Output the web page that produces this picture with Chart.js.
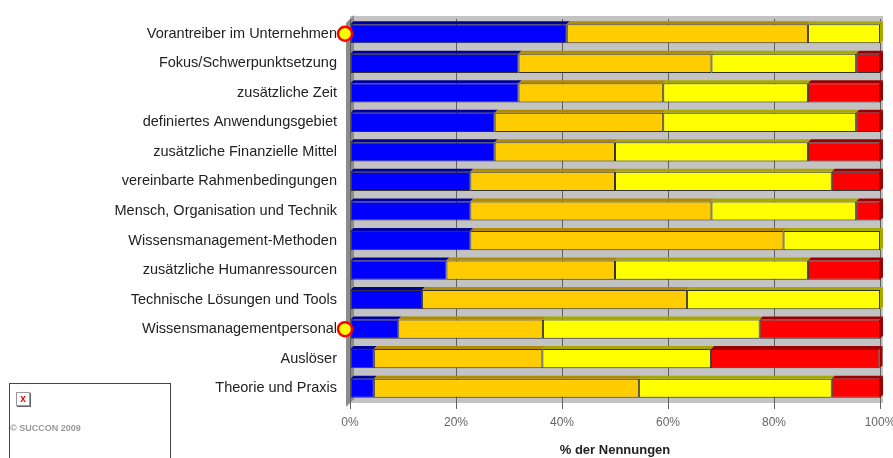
<!DOCTYPE html>
<html>
<head>
<meta charset="utf-8">
<script src="https://cdn.jsdelivr.net/npm/chart.js@4"></script>
<style>
  body { margin: 0; background: #fff; font-family: "Liberation Sans", Arial, sans-serif; }
  #wrap { position: relative; width: 893px; height: 458px; }
  #logo { position: absolute; left: 9px; top: 383px; width: 160px; height: 90px;
          border: 1px solid #444; border-bottom: none; }
  #logo .icon { position: absolute; left: 6px; top: 8px; width: 12px; height: 12px;
                border: 1px solid #999; color: #e00; font-size: 10px; font-weight: bold;
                line-height: 11px; text-align: center; box-shadow: 1px 1px 0 #666; }
  #logo .txt { position: absolute; left: 0; top: 39px; color: #999; font-size: 9px; font-weight: bold; }
</style>
</head>
<body>
<div id="wrap">
  <canvas id="chart" width="893" height="458"></canvas>
  <div id="logo"><div class="icon">x</div><div class="txt">© SUCCON 2009</div></div>
</div>
<script>
// Kategorien (oben nach unten)
const labels = [
  'Vorantreiber im Unternehmen',
  'Fokus/Schwerpunktsetzung',
  'zusätzliche Zeit',
  'definiertes Anwendungsgebiet',
  'zusätzliche Finanzielle Mittel',
  'vereinbarte Rahmenbedingungen',
  'Mensch, Organisation und Technik',
  'Wissensmanagement-Methoden',
  'zusätzliche Humanressourcen',
  'Technische Lösungen und Tools',
  'Wissensmanagementpersonal',
  'Auslöser',
  'Theorie und Praxis'
];

// Anteile in % der Nennungen
const blueValues   = [40.9, 31.8, 31.8, 27.3, 27.3, 22.7, 22.7, 22.7, 18.2, 13.6,  9.1,  4.5,  4.5];
const orangeValues = [45.5, 36.4, 27.3, 31.8, 22.7, 27.3, 45.5, 59.1, 31.8, 50.0, 27.3, 31.8, 50.0];
const yellowValues = [13.6, 27.3, 27.3, 36.4, 36.4, 40.9, 27.3, 18.2, 36.4, 36.4, 40.9, 31.8, 36.4];
const redValues    = [ 0.0,  4.5, 13.6,  4.5, 13.6,  9.1,  4.5,  0.0, 13.6,  0.0, 22.7, 31.8,  9.1];

const xTicks = [0, 20, 40, 60, 80, 100];
const markedLabels = ['Vorantreiber im Unternehmen', 'Wissensmanagementpersonal'];

const colors = ['#0000ff', '#ffcc00', '#ffff00', '#ff0000'];
const shades = ['#00009a', '#b08a00', '#a8a800', '#9a0000'];

// Hintergrund (graue Wand) zeichnen
const wallPlugin = {
  id: 'wall',
  beforeDraw(chart) {
    const { ctx, chartArea: a } = chart;
    ctx.save();
    ctx.fillStyle = '#c3c3c3';
    ctx.fillRect(a.left, a.top - 3, a.right - a.left + 3, a.bottom - a.top + 3);
    // linke Seitenwand
    ctx.fillStyle = '#8c8c8c';
    ctx.beginPath();
    ctx.moveTo(a.left - 4, a.top + 4);
    ctx.lineTo(a.left + 4, a.top - 4);
    ctx.lineTo(a.left + 4, a.bottom - 4);
    ctx.lineTo(a.left - 4, a.bottom + 4);
    ctx.closePath();
    ctx.fill();
    ctx.restore();
  }
};

// 3D-Kanten der Balken und Markierungen
const barPlugin = {
  id: 'bar3d',
  afterDatasetsDraw(chart) {
    const { ctx } = chart;
    const d = 3;
    ctx.save();
    chart.data.datasets.forEach((ds, i) => {
      const meta = chart.getDatasetMeta(i);
      meta.data.forEach((bar, j) => {
        if (!ds.data[j]) return;
        const top = bar.y - bar.height / 2;
        const bottom = bar.y + bar.height / 2;
        ctx.fillStyle = shades[i];
        ctx.beginPath();
        ctx.moveTo(bar.base, top);
        ctx.lineTo(bar.x, top);
        ctx.lineTo(bar.x + d, top - d);
        ctx.lineTo(bar.base + d, top - d);
        ctx.closePath();
        ctx.fill();
        // rechte Seite am Ende der Reihe
        let last = true;
        for (let k = i + 1; k < chart.data.datasets.length; k++) {
          if (chart.data.datasets[k].data[j]) last = false;
        }
        if (last) {
          ctx.beginPath();
          ctx.moveTo(bar.x, top);
          ctx.lineTo(bar.x + d, top - d);
          ctx.lineTo(bar.x + d, bottom - d);
          ctx.lineTo(bar.x, bottom);
          ctx.closePath();
          ctx.fill();
        }
      });
    });
    // gelbe Kreise
    const xs = chart.scales.x, ys = chart.scales.y;
    markedLabels.forEach(lbl => {
      const idx = labels.indexOf(lbl);
      const cx = xs.getPixelForValue(0) - 5;
      const cy = ys.getPixelForValue(idx);
      ctx.beginPath();
      ctx.arc(cx, cy, 7, 0, Math.PI * 2);
      ctx.fillStyle = '#ffff00';
      ctx.fill();
      ctx.lineWidth = 2.5;
      ctx.strokeStyle = '#ff0000';
      ctx.stroke();
    });
    ctx.restore();
  }
};

const series = [blueValues, orangeValues, yellowValues, redValues];

new Chart(document.getElementById('chart'), {
  type: 'bar',
  data: {
    labels: labels,
    datasets: series.map((vals, i) => ({
      data: vals,
      backgroundColor: colors[i],
      borderColor: '#333',
      borderWidth: 1,
      borderSkipped: false,
      categoryPercentage: 1,
      barPercentage: 0.65
    }))
  },
  options: {
    indexAxis: 'y',
    responsive: false,
    animation: false,
    layout: { padding: { top: 19, right: 13, left: 0, bottom: 0 } },
    plugins: { legend: { display: false }, tooltip: { enabled: false } },
    scales: {
      x: {
        stacked: true,
        min: 0,
        max: 100,
        afterBuildTicks: s => { s.ticks = xTicks.map(v => ({ value: v })); },
        ticks: {
          callback: v => v + '%',
          color: '#666',
          font: { family: 'Liberation Sans', size: 12 },
          padding: 6
        },
        grid: { color: '#606060', lineWidth: 1, drawTicks: true, tickLength: 6 },
        border: { display: false },
        title: {
          display: true,
          text: '% der Nennungen',
          color: '#222',
          font: { family: 'Liberation Sans', size: 13, weight: 'bold' },
          padding: { top: 8, bottom: 0 }
        },
        afterFit: s => { s.height = 55; s.paddingLeft = 0; s.paddingRight = 0; }
      },
      y: {
        stacked: true,
        grid: { display: false, drawTicks: false },
        border: { display: false },
        ticks: {
          color: '#222',
          font: { family: 'Liberation Sans', size: 14.5 },
          padding: 13
        },
        afterFit: s => { s.width = 350; s.paddingTop = 0; s.paddingBottom = 0; }
      }
    }
  },
  plugins: [wallPlugin, barPlugin]
});
</script>
</body>
</html>
